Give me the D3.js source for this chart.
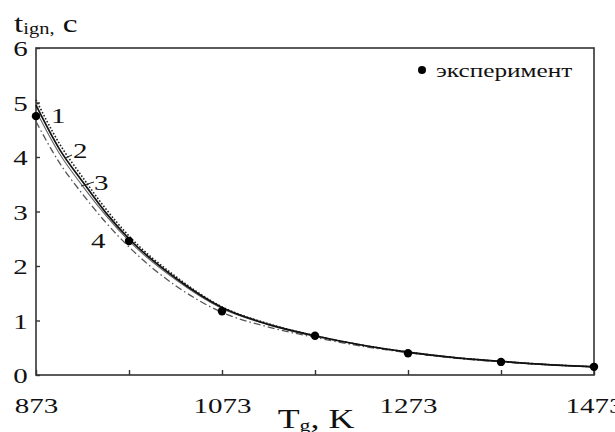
<!DOCTYPE html>
<html>
<head>
<meta charset="utf-8">
<script src="https://cdn.jsdelivr.net/npm/d3@7"></script>
<style>
  body { margin: 0; background: #fff; }
  text { font-family: "Liberation Serif", "DejaVu Serif", serif; fill: #111; }
</style>
</head>
<body>
<div id="chart"></div>
<script>
// gas temperature, K
const temps = [873, 898, 923, 948, 973, 1023, 1073, 1123, 1173, 1223, 1273, 1323, 1373, 1423, 1473];
// model curves 1..4, ignition delay, s
const curve1 = [5.05, 4.25, 3.63, 3.05, 2.55, 1.81, 1.25, 0.94, 0.72, 0.55, 0.42, 0.32, 0.25, 0.19, 0.15];
const curve2 = [4.95, 4.15, 3.55, 2.98, 2.50, 1.78, 1.24, 0.93, 0.72, 0.55, 0.42, 0.32, 0.25, 0.19, 0.15];
const curve3 = [4.85, 4.07, 3.47, 2.93, 2.46, 1.75, 1.22, 0.92, 0.71, 0.55, 0.41, 0.32, 0.25, 0.19, 0.15];
const curve4 = [4.65, 3.90, 3.32, 2.80, 2.35, 1.64, 1.15, 0.88, 0.69, 0.53, 0.41, 0.31, 0.24, 0.19, 0.15];
// experiment
const expT = [873, 973, 1073, 1173, 1273, 1373, 1473];
const expV = [4.75, 2.46, 1.17, 0.72, 0.40, 0.24, 0.15];

const xTicks = [873, 973, 1073, 1173, 1273, 1373, 1473];
const xLabels = [873, 1073, 1273, 1473];
const yTicks = [0, 1, 2, 3, 4, 5, 6];
const curveNames = ["1", "2", "3", "4"];

const W = 615, H = 432;
const sx = 1.38; // text in the picture is stretched sideways

const svg = d3.select("#chart").append("svg")
  .attr("width", W).attr("height", H);

const x = d3.scaleLinear().domain([873, 1473]).range([36, 594]);
const y = d3.scaleLinear().domain([0, 6]).range([375, 48]);

// frame
svg.append("rect")
  .attr("x", x(873)).attr("y", y(6))
  .attr("width", x(1473) - x(873)).attr("height", y(0) - y(6))
  .attr("fill", "none").attr("stroke", "#333").attr("stroke-width", 1.6);

// x axis
const gx = svg.append("g")
  .attr("transform", `translate(0,${y(0)})`)
  .call(d3.axisBottom(x).tickValues(xTicks).tickSize(-5).tickPadding(8)
    .tickFormat(d => xLabels.includes(d) ? d : ""));
gx.select(".domain").remove();
gx.selectAll(".tick line").attr("stroke", "#333").attr("stroke-width", 1.4);
gx.selectAll(".tick text")
  .attr("font-size", "21px").attr("fill", "#111")
  .attr("font-family", "Liberation Serif")
  .attr("y", 38).attr("dy", null)
  .attr("transform", `scale(${sx},1)`);

// y axis
const gy = svg.append("g")
  .attr("transform", `translate(${x(873)},0)`)
  .call(d3.axisLeft(y).tickValues(yTicks).tickSize(-4).tickFormat(d3.format("d")));
gy.select(".domain").remove();
gy.selectAll(".tick line").attr("stroke", "#333").attr("stroke-width", 1.4);
gy.selectAll(".tick text")
  .attr("font-size", "21px").attr("fill", "#111")
  .attr("font-family", "Liberation Serif")
  .attr("x", -6).attr("dy", "0.36em")
  .attr("transform", `scale(${sx},1)`);

// model curves
const line = d3.line()
  .x((d, i) => x(temps[i]))
  .y(d => y(d))
  .curve(d3.curveMonotoneX);

const styles = [
  { data: curve4, stroke: "#555", width: 1.3, dash: "7,3,1.5,3" },
  { data: curve3, stroke: "#666", width: 1.1, dash: null },
  { data: curve1, stroke: "#222", width: 1.6, dash: "1.6,1.8" },
  { data: curve2, stroke: "#111", width: 1.7, dash: null }
];
styles.forEach(s => {
  svg.append("path")
    .datum(s.data)
    .attr("d", line)
    .attr("fill", "none")
    .attr("stroke", s.stroke)
    .attr("stroke-width", s.width)
    .attr("stroke-dasharray", s.dash);
});

// experiment points
svg.selectAll("circle.exp")
  .data(expT)
  .enter()
  .append("circle")
  .attr("class", "exp")
  .attr("cx", d => x(d))
  .attr("cy", (d, i) => y(expV[i]))
  .attr("r", 4.2)
  .attr("fill", "#000");

// curve labels
const labelPos = [
  { tx: 51, ty: 123 },
  { tx: 73, ty: 158, lx1: 65, ly1: 158, lx2: 72, ly2: 155 },
  { tx: 94, ty: 190, lx1: 81, ly1: 186, lx2: 94, ly2: 182 },
  { tx: 91, ty: 248 }
];
labelPos.forEach((p, i) => {
  if (p.lx1 !== undefined) {
    svg.append("line")
      .attr("x1", p.lx1).attr("y1", p.ly1)
      .attr("x2", p.lx2).attr("y2", p.ly2)
      .attr("stroke", "#222").attr("stroke-width", 1);
  }
  svg.append("text")
    .attr("transform", `translate(${p.tx},${p.ty}) scale(${sx},1)`)
    .attr("font-size", "21px")
    .text(curveNames[i]);
});

// legend
svg.append("circle").attr("cx", 422).attr("cy", 70).attr("r", 4).attr("fill", "#000");
svg.append("text")
  .attr("transform", `translate(436,77) scale(${sx - 0.05},1)`)
  .attr("font-size", "19px")
  .text("эксперимент");

// axis titles
const yt = svg.append("text")
  .attr("transform", `translate(14,32) scale(${sx - 0.1},1)`)
  .attr("font-size", "26px");
yt.append("tspan").text("t");
yt.append("tspan").attr("font-size", "16px").attr("dy", 2).text("ign,");
yt.append("tspan").attr("dy", -2).text(" c");

const xt = svg.append("text")
  .attr("transform", `translate(316,428) scale(${sx - 0.1},1)`)
  .attr("text-anchor", "middle")
  .attr("font-size", "28px");
xt.append("tspan").text("T");
xt.append("tspan").attr("font-size", "17px").attr("dy", 3).text("g");
xt.append("tspan").attr("dy", -3).text(", K");
</script>
</body>
</html>
